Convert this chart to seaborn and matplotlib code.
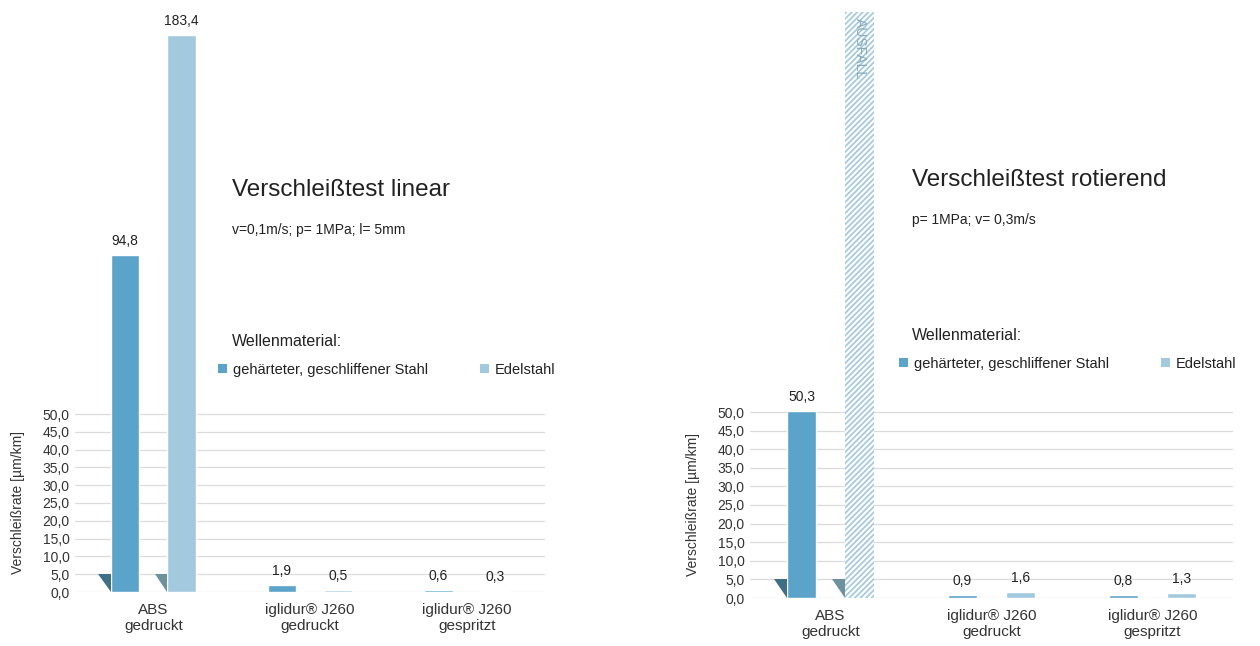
import numpy as np
import pandas as pd
import matplotlib
matplotlib.use("Agg")
import matplotlib.pyplot as plt
import seaborn as sns
from matplotlib.patches import Polygon, Patch

# ---------------- data ----------------
categories = ["ABS\ngedruckt", "iglidur® J260\ngedruckt", "iglidur® J260\ngespritzt"]
materials = ["gehärteter, geschliffener Stahl", "Edelstahl"]

linear_stahl = [94.8, 1.9, 0.6]
linear_edelstahl = [183.4, 0.5, 0.3]

rot_stahl = [50.3, 0.9, 0.8]
rot_edelstahl = [np.nan, 1.6, 1.3]          # ABS on Edelstahl: AUSFALL
rot_edelstahl_ausfall = [True, False, False]

ytick_values = np.arange(0, 55, 5)

titles = ["Verschleißtest linear", "Verschleißtest rotierend"]
subtitles = ["v=0,1m/s; p= 1MPa; l= 5mm", "p= 1MPa; v= 0,3m/s"]
legend_title = "Wellenmaterial:"
ylabel = "Verschleißrate [µm/km]"
fail_label = "AUSFALL"

# ---------------- style ----------------
colors = ["#5ba3c9", "#a3c9de"]
tri_colors = ["#3f6f87", "#6d919d"]
text_color = "#222222"
grid_color = "#dcdcdc"

sns.set_theme(style="white")
plt.rcParams["font.family"] = ["Liberation Sans", "DejaVu Sans"]
plt.rcParams["hatch.linewidth"] = 1.6

W, H = 1260, 646
fig = plt.figure(figsize=(W / 100, H / 100), dpi=100)


def fx(px):
    return px / W


def fy(py):
    return 1 - py / H


def fmt(v):
    return f"{v:.1f}".replace(".", ",")


def make_df(a, b, cap, fail):
    rows = []
    for i, c in enumerate(categories):
        for m, vals, fl in ((materials[0], a, [False] * 3), (materials[1], b, fail)):
            v = vals[i]
            disp = cap if fl[i] else min(v, cap)
            rows.append({"cat": c, "mat": m, "value": v, "display": disp, "fail": fl[i]})
    return pd.DataFrame(rows)


panels = [
    dict(df=make_df(linear_stahl, linear_edelstahl, 156.5, [False] * 3),
         rect=(fx(75), 1 - 592 / H, fx(545) - fx(75), 592 / H), ytop=592 / 3.56,
         title_xy=(232, 190), sub_xy=(232, 230), leg_title_xy=(232, 342), leg_xy=(218, 370),
         ylab_x=-0.106),
    dict(df=make_df(rot_stahl, rot_edelstahl, 157.5, rot_edelstahl_ausfall),
         rect=(fx(750), 1 - 598 / H, fx(1233) - fx(750), 598 / H), ytop=598 / 3.72,
         title_xy=(912, 180), sub_xy=(912, 220), leg_title_xy=(912, 335), leg_xy=(899, 364),
         ylab_x=-0.104),
]

for k, p in enumerate(panels):
    ax = fig.add_axes(p["rect"])
    df = p["df"]
    sns.barplot(data=df, x="cat", y="display", hue="mat", order=categories,
                hue_order=materials, palette=colors, saturation=1, width=0.72,
                gap=0.5, errorbar=None, legend=False, ax=ax)

    ax.set_ylim(0, p["ytop"])
    ax.set_xlim(-0.5, 2.5)
    ax.set_yticks(ytick_values)
    ax.set_yticklabels([fmt(v) for v in ytick_values])
    ax.yaxis.grid(True, color=grid_color, linewidth=0.9)
    ax.xaxis.grid(False)
    ax.set_axisbelow(True)
    for s in ax.spines.values():
        s.set_visible(False)
    ax.tick_params(axis="y", length=0, pad=4, labelsize=10, labelcolor="#333333")
    ax.tick_params(axis="x", length=0, pad=8, labelsize=11, labelcolor="#333333")
    ax.set_xlabel("")
    ax.set_ylabel(ylabel, fontsize=10, color="#333333")
    ax.yaxis.set_label_coords(p["ylab_x"], 0.5 * 50 / p["ytop"])

    # annotate bars
    for hi, cont in enumerate(ax.containers):
        bars = sorted(cont.patches, key=lambda b: b.get_x())
        sub = df[df["mat"] == materials[hi]].set_index("cat").loc[categories]
        for ci, bar in enumerate(bars):
            row = sub.iloc[ci]
            xc = bar.get_x() + bar.get_width() / 2
            h = bar.get_height()
            if row["fail"]:
                bar.set_hatch("//////")
                bar.set_edgecolor("white")
                bar.set_linewidth(0)
                ax.text(xc, h - 1.5, fail_label, rotation=270, ha="center", va="top",
                        fontsize=10, color="#86a9bd")
            else:
                ax.annotate(fmt(row["value"]), (xc, h), xytext=(0, 5),
                            textcoords="offset points", ha="center", va="bottom",
                            fontsize=10, color=text_color)
            if row["fail"] or row["value"] > ytick_values[-1]:
                x0 = bar.get_x()
                tri = Polygon([(x0 - 0.08, 5.0), (x0, 5.0), (x0, 0)], closed=True,
                              facecolor=tri_colors[hi], edgecolor="none", zorder=3)
                ax.add_patch(tri)

    # titles and legend
    tx, ty = p["title_xy"]
    fig.text(fx(tx), fy(ty), titles[k], fontsize=17.5, ha="left", va="center",
             color=text_color)
    sx, sy = p["sub_xy"]
    fig.text(fx(sx), fy(sy), subtitles[k], fontsize=10, ha="left", va="center",
             color=text_color)
    lx, ly = p["leg_title_xy"]
    fig.text(fx(lx), fy(ly), legend_title, fontsize=11.5, ha="left", va="center",
             color=text_color)
    handles = [Patch(facecolor=c, edgecolor="none") for c in colors]
    gx, gy = p["leg_xy"]
    fig.legend(handles, materials, loc="center left", bbox_to_anchor=(fx(gx), fy(gy)),
               ncol=2, frameon=False, fontsize=10.5, handlelength=0.6, handleheight=0.6,
               handletextpad=0.4, columnspacing=3.6, borderpad=0, borderaxespad=0,
               labelcolor=text_color)

fig.savefig("out.png", dpi=100, facecolor="white")
